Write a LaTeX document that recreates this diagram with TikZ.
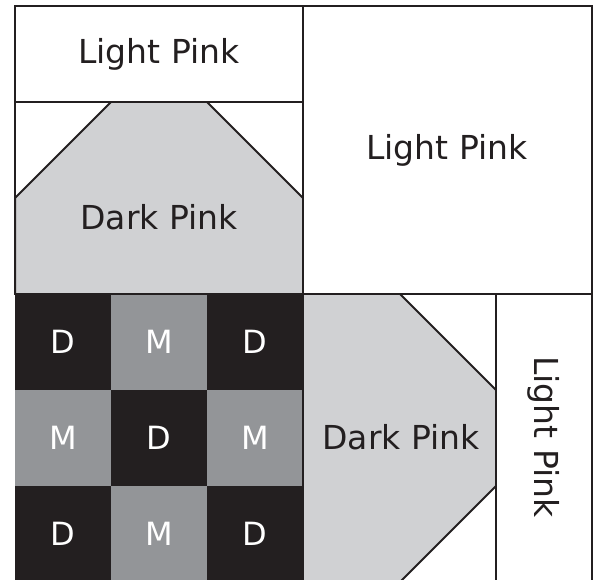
\documentclass[tikz,border=0pt]{standalone}
\usepackage{fontspec}
\setmainfont{DejaVu Sans}
\definecolor{lineblack}{HTML}{231F20}
\definecolor{darkpink}{HTML}{D0D1D3}
\definecolor{medgray}{HTML}{939598}
\definecolor{darksq}{HTML}{231F20}
\begin{document}
\begin{tikzpicture}[x=1pt,y=-1pt,
  edge/.style={draw=lineblack,line width=2pt,line join=miter},
  lbl/.style={font=\fontsize{33}{40}\selectfont,text=lineblack,inner sep=0pt},
  sq/.style={font=\fontsize{32}{40}\selectfont,text=white,inner sep=0pt},
  dsq/.style={fill=darksq},
  msq/.style={fill=medgray}]
\useasboundingbox (0,0) rectangle (597,579);
\fill[white] (0,0) rectangle (597,579);
% top-left block
\fill[darkpink] (15,294) -- (15,198) -- (111,102) -- (207,102) -- (303,198) -- (303,294) -- cycle;
\draw[edge] (15,294) -- (15,198) -- (111,102) (207,102) -- (303,198);
\draw[edge] (15,6) rectangle (303,294);
\draw[edge] (15,102) -- (303,102);
% right top block
\draw[edge] (303,6) rectangle (592,294);
% checkerboard
\foreach \r in {0,1,2}{
  \foreach \c in {0,1,2}{
    \pgfmathtruncatemacro{\p}{mod(\r+\c,2)}
    \ifnum\p=0
      \fill[dsq] ({15+96*\c},{294+96*\r}) rectangle ({111+96*\c},{390+96*\r});
    \else
      \fill[msq] ({15+96*\c},{294+96*\r}) rectangle ({111+96*\c},{390+96*\r});
    \fi
  }
}
\draw[edge] (15,294) -- (303,294);
% bottom dark pink
\fill[darkpink] (303,294) -- (400,294) -- (496,390) -- (496,486) -- (400,582) -- (303,582) -- cycle;
\draw[edge] (400,294) -- (496,390) (496,486) -- (400,582);
\draw[edge] (303,294) -- (303,582);
% vertical light pink strip
\draw[edge] (303,294) -- (592,294);
\draw[edge] (496,294) -- (496,585);
\draw[edge] (592,294) -- (592,585);
% labels
\node[lbl] (lp1) at (159,54) {Light Pink};
\node[lbl] (dp1) at (159,217) {Dark Pink};
\node[lbl] (lp2) at (447,150) {Light Pink};
\node[lbl] (dp2) at (401,437) {Dark Pink};
\node[lbl,rotate=-90] (lp3) at (544,437) {Light Pink};
\node[sq] (c11) at (63,342) {D};
\node[sq] (c12) at (159,342) {M};
\node[sq] (c13) at (255,342) {D};
\node[sq] (c21) at (63,438) {M};
\node[sq] (c22) at (159,438) {D};
\node[sq] (c23) at (255,438) {M};
\node[sq] (c31) at (63,534) {D};
\node[sq] (c32) at (159,534) {M};
\node[sq] (c33) at (255,534) {D};
\end{tikzpicture}
\end{document}
